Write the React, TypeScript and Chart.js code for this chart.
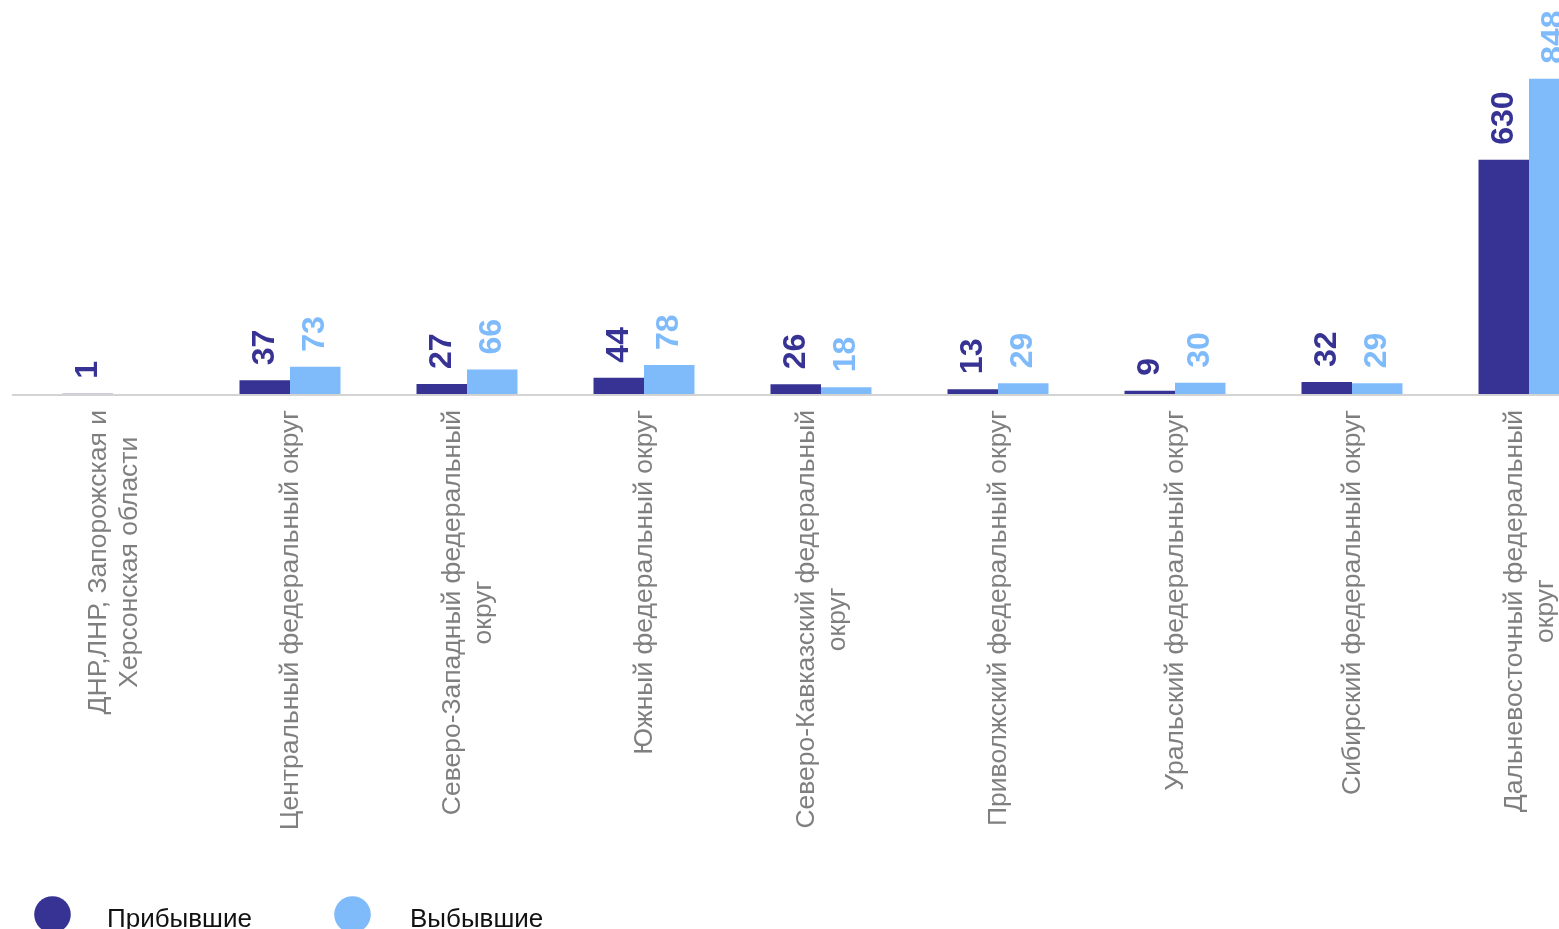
import React, { useEffect, useRef } from "react";
import { Chart, registerables } from "chart.js";

Chart.register(...registerables);

const categories: string[][] = [
  ["ДНР,ЛНР, Запорожская и", "Херсонская области"],
  ["Центральный федеральный округ"],
  ["Северо-Западный федеральный", "округ"],
  ["Южный федеральный округ"],
  ["Северо-Кавказский федеральный", "округ"],
  ["Приволжский федеральный округ"],
  ["Уральский федеральный округ"],
  ["Сибирский федеральный округ"],
  ["Дальневосточный федеральный", "округ"],
];

const arrivals: (number | null)[] = [1, 37, 27, 44, 26, 13, 9, 32, 630];
const departures: (number | null)[] = [null, 73, 66, 78, 18, 29, 30, 29, 848];

const seriesNames = ["Прибывшие", "Выбывшие"];

const DARK = "#373394";
const LIGHT = "#7fbbfb";
const FONT = "'Liberation Sans', Arial, sans-serif";

const valueLabels = {
  id: "valueLabels",
  afterDatasetsDraw(chart: any) {
    const ctx = chart.ctx;
    chart.data.datasets.forEach((ds: any, di: number) => {
      const meta = chart.getDatasetMeta(di);
      meta.data.forEach((el: any, i: number) => {
        const v = ds.data[i];
        if (v === null || v === undefined) return;
        ctx.save();
        ctx.translate(el.x, el.y - 15);
        ctx.rotate(-Math.PI / 2);
        ctx.font = `bold 32px ${FONT}`;
        ctx.fillStyle = ds.backgroundColor;
        ctx.textAlign = "left";
        ctx.textBaseline = "middle";
        ctx.fillText(String(v), 0, 0);
        ctx.restore();
      });
    });
  },
};

const axisAndLabels = {
  id: "axisAndLabels",
  afterDraw(chart: any) {
    const ctx = chart.ctx;
    const xScale = chart.scales.x;
    // baseline
    ctx.save();
    ctx.fillStyle = "#d3d3d3";
    ctx.fillRect(12, chart.chartArea.bottom, chart.width - 12, 2);
    ctx.restore();

    // category labels
    const top = 410;
    const lineH = 31;
    ctx.save();
    ctx.font = `26.5px ${FONT}`;
    ctx.fillStyle = "#7f7f7f";
    ctx.textAlign = "center";
    ctx.textBaseline = "middle";
    categories.forEach((lines, i) => {
      const cx = xScale.getPixelForValue(i) + 1;
      const maxW = Math.max(...lines.map((l) => ctx.measureText(l).width));
      lines.forEach((line, j) => {
        const off = (j - (lines.length - 1) / 2) * lineH;
        ctx.save();
        ctx.translate(cx + off, top + maxW / 2);
        ctx.rotate(-Math.PI / 2);
        ctx.fillText(line, 0, 0);
        ctx.restore();
      });
    });
    ctx.restore();

    // legend
    const items = [
      { cx: 52.5, tx: 107, color: DARK, text: seriesNames[0] },
      { cx: 352.5, tx: 410, color: LIGHT, text: seriesNames[1] },
    ];
    ctx.save();
    ctx.font = `26px ${FONT}`;
    ctx.textAlign = "left";
    ctx.textBaseline = "alphabetic";
    items.forEach((it) => {
      ctx.beginPath();
      ctx.arc(it.cx, 914.5, 18.3, 0, Math.PI * 2);
      ctx.fillStyle = it.color;
      ctx.fill();
      ctx.fillStyle = "#111111";
      ctx.fillText(it.text, it.tx, 927);
    });
    ctx.restore();
  },
};

export default function App() {
  const ref = useRef<HTMLCanvasElement>(null);
  useEffect(() => {
    if (!ref.current) return;
    const chart = new Chart(ref.current, {
      type: "bar",
      data: {
        labels: categories.map((c) => c.join(" ")),
        datasets: [
          { label: seriesNames[0], data: arrivals, backgroundColor: DARK },
          { label: seriesNames[1], data: departures, backgroundColor: LIGHT },
        ],
      },
      options: {
        animation: false,
        responsive: true,
        maintainAspectRatio: false,
        layout: { padding: { left: 24.5, right: 22.5, top: 0, bottom: 535 } },
        datasets: { bar: { categoryPercentage: 0.5706, barPercentage: 1 } },
        scales: {
          x: { display: false },
          y: { display: false, min: 0, max: 1060 },
        },
        plugins: { legend: { display: false }, tooltip: { enabled: false } },
      },
      plugins: [valueLabels, axisAndLabels],
    } as any);
    return () => chart.destroy();
  }, []);

  return (
    <div
      style={{
        position: "fixed",
        left: 0,
        top: 0,
        width: 1559,
        height: 929,
        overflow: "hidden",
        background: "#fff",
      }}
    >
      <div style={{ position: "relative", width: 1640, height: 929 }}>
        <canvas ref={ref} />
      </div>
    </div>
  );
}
